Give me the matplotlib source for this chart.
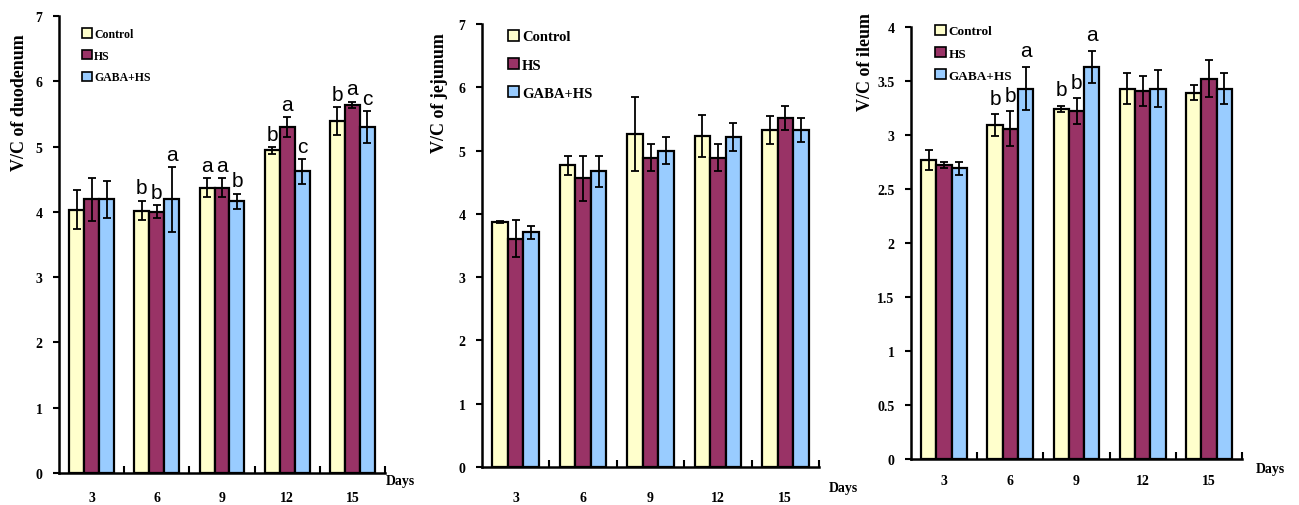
import matplotlib
matplotlib.use("Agg")
import matplotlib.pyplot as plt
import numpy as np
from matplotlib.patches import Patch

days = ["3", "6", "9", "12", "15"]
groups = ["Control", "HS", "GABA+HS"]
colors = ["#FFFFCC", "#993366", "#99CCFF"]

# Duodenum
duo_mean = [[4.03, 4.02, 4.37, 4.94, 5.39],
            [4.19, 4.00, 4.37, 5.30, 5.64],
            [4.19, 4.19, 4.16, 4.62, 5.30]]
duo_err = [[0.30, 0.15, 0.15, 0.05, 0.21],
           [0.33, 0.10, 0.15, 0.15, 0.05],
           [0.28, 0.50, 0.12, 0.19, 0.24]]
duo_letters = [["", "b", "a", "b", "b"],
               ["", "b", "a", "a", "a"],
               ["", "a", "b", "c", "c"]]

# Jejunum
jej_mean = [[3.87, 4.77, 5.26, 5.23, 5.33],
            [3.61, 4.56, 4.89, 4.89, 5.52],
            [3.71, 4.67, 5.00, 5.21, 5.33]]
jej_err = [[0.02, 0.15, 0.58, 0.33, 0.22],
           [0.29, 0.36, 0.22, 0.22, 0.19],
           [0.10, 0.25, 0.21, 0.22, 0.19]]

# Ileum
ile_mean = [[2.77, 3.09, 3.24, 3.43, 3.39],
            [2.72, 3.06, 3.22, 3.41, 3.52],
            [2.69, 3.43, 3.63, 3.43, 3.43]]
ile_err = [[0.09, 0.10, 0.03, 0.14, 0.07],
           [0.03, 0.16, 0.12, 0.14, 0.17],
           [0.06, 0.20, 0.15, 0.17, 0.14]]
ile_letters = [["", "b", "b", "", ""],
               ["", "b", "b", "", ""],
               ["", "a", "a", "", ""]]

SERIF = "Liberation Serif"
SANS = "Liberation Sans"

fig = plt.figure(figsize=(12.99, 5.06), dpi=100)

W, H = 1299.0, 506.0


def rect(l, r, t, b):
    return [l / W, 1 - b / H, (r - l) / W, (b - t) / H]


panels = [
    dict(rect=rect(59, 385, 17, 474), mean=duo_mean, err=duo_err, letters=duo_letters,
         ymax=7, ystep=1, ylabel="V/C of duodenum", ylab_xy=(20, 103),
         legend_fs=8.5, legend_ls=0.82, legend_anchor=(0.05, 0.989), xpad=13,
         days_xy=(400, 482), letter_pad=0.05),
    dict(rect=rect(482, 819, 25, 468), mean=jej_mean, err=jej_err, letters=None,
         ymax=7, ystep=1, ylabel="V/C of jejunum", ylab_xy=(440, 93),
         legend_fs=10.5, legend_ls=1.0, legend_anchor=(0.05, 1.007), xpad=17,
         days_xy=(843, 489), letter_pad=0.05),
    dict(rect=rect(911, 1242, 28, 460), mean=ile_mean, err=ile_err, letters=ile_letters,
         ymax=4, ystep=0.5, ylabel="V/C of ileum", ylab_xy=(866, 62),
         legend_fs=9.5, legend_ls=0.74, legend_anchor=(0.05, 1.024), xpad=11,
         days_xy=(1270, 470), letter_pad=0.06),
]

bw = 0.23
x = np.arange(len(days))

for p in panels:
    ax = fig.add_axes(p["rect"])
    for i in range(3):
        xs = x + (i - 1) * bw
        ax.bar(xs, p["mean"][i], width=bw, color=colors[i], edgecolor="black",
               linewidth=1.6, zorder=2)
        ax.errorbar(xs, p["mean"][i], yerr=p["err"][i], fmt="none", ecolor="black",
                    elinewidth=1.3, capsize=3, capthick=1.3, zorder=3)
        if p["letters"] is not None:
            for j, lab in enumerate(p["letters"][i]):
                if lab:
                    ax.text(xs[j], p["mean"][i][j] + p["err"][i][j] + p["letter_pad"], lab,
                            ha="center", va="bottom", fontsize=15, family=SANS, zorder=4)
    ax.set_xlim(-0.5, len(days) - 0.5)
    ax.set_ylim(0, p["ymax"])
    yt = np.arange(0, p["ymax"] + 1e-9, p["ystep"])
    ax.set_yticks(yt)
    ax.set_yticklabels([("%g" % v) for v in yt], family=SERIF, fontweight="bold", fontsize=10)
    ax.set_xticks(x)
    ax.set_xticklabels(days, family=SERIF, fontweight="bold", fontsize=10)
    ax.set_xticks(np.arange(0.5, len(days) - 0.4, 1.0), minor=True)
    ax.tick_params(axis="x", which="major", length=0, pad=p["xpad"])
    ax.tick_params(axis="x", which="minor", direction="in", length=5, width=1.5)
    ax.tick_params(axis="y", which="major", direction="out", length=4, width=1.5, pad=8)
    for s in ["top", "right"]:
        ax.spines[s].set_visible(False)
    for s in ["left", "bottom"]:
        ax.spines[s].set_linewidth(1.8)
    handles = [Patch(facecolor=colors[i], edgecolor="black", linewidth=1.2, label=groups[i])
               for i in range(3)]
    ax.legend(handles=handles, loc="upper left", bbox_to_anchor=p["legend_anchor"],
              frameon=False, prop={"family": SERIF, "weight": "bold", "size": p["legend_fs"]},
              handlelength=0.8, handleheight=0.8, handletextpad=0.2,
              labelspacing=p["legend_ls"], borderaxespad=0.2)
    fig.text(p["ylab_xy"][0] / W, 1 - p["ylab_xy"][1] / H, p["ylabel"], rotation=90,
             ha="center", va="center", family=SERIF, fontweight="bold", fontsize=13)
    fig.text(p["days_xy"][0] / W, 1 - p["days_xy"][1] / H, "Days", ha="center", va="center",
             family=SERIF, fontweight="bold", fontsize=10)

fig.savefig("out.png", dpi=100)
